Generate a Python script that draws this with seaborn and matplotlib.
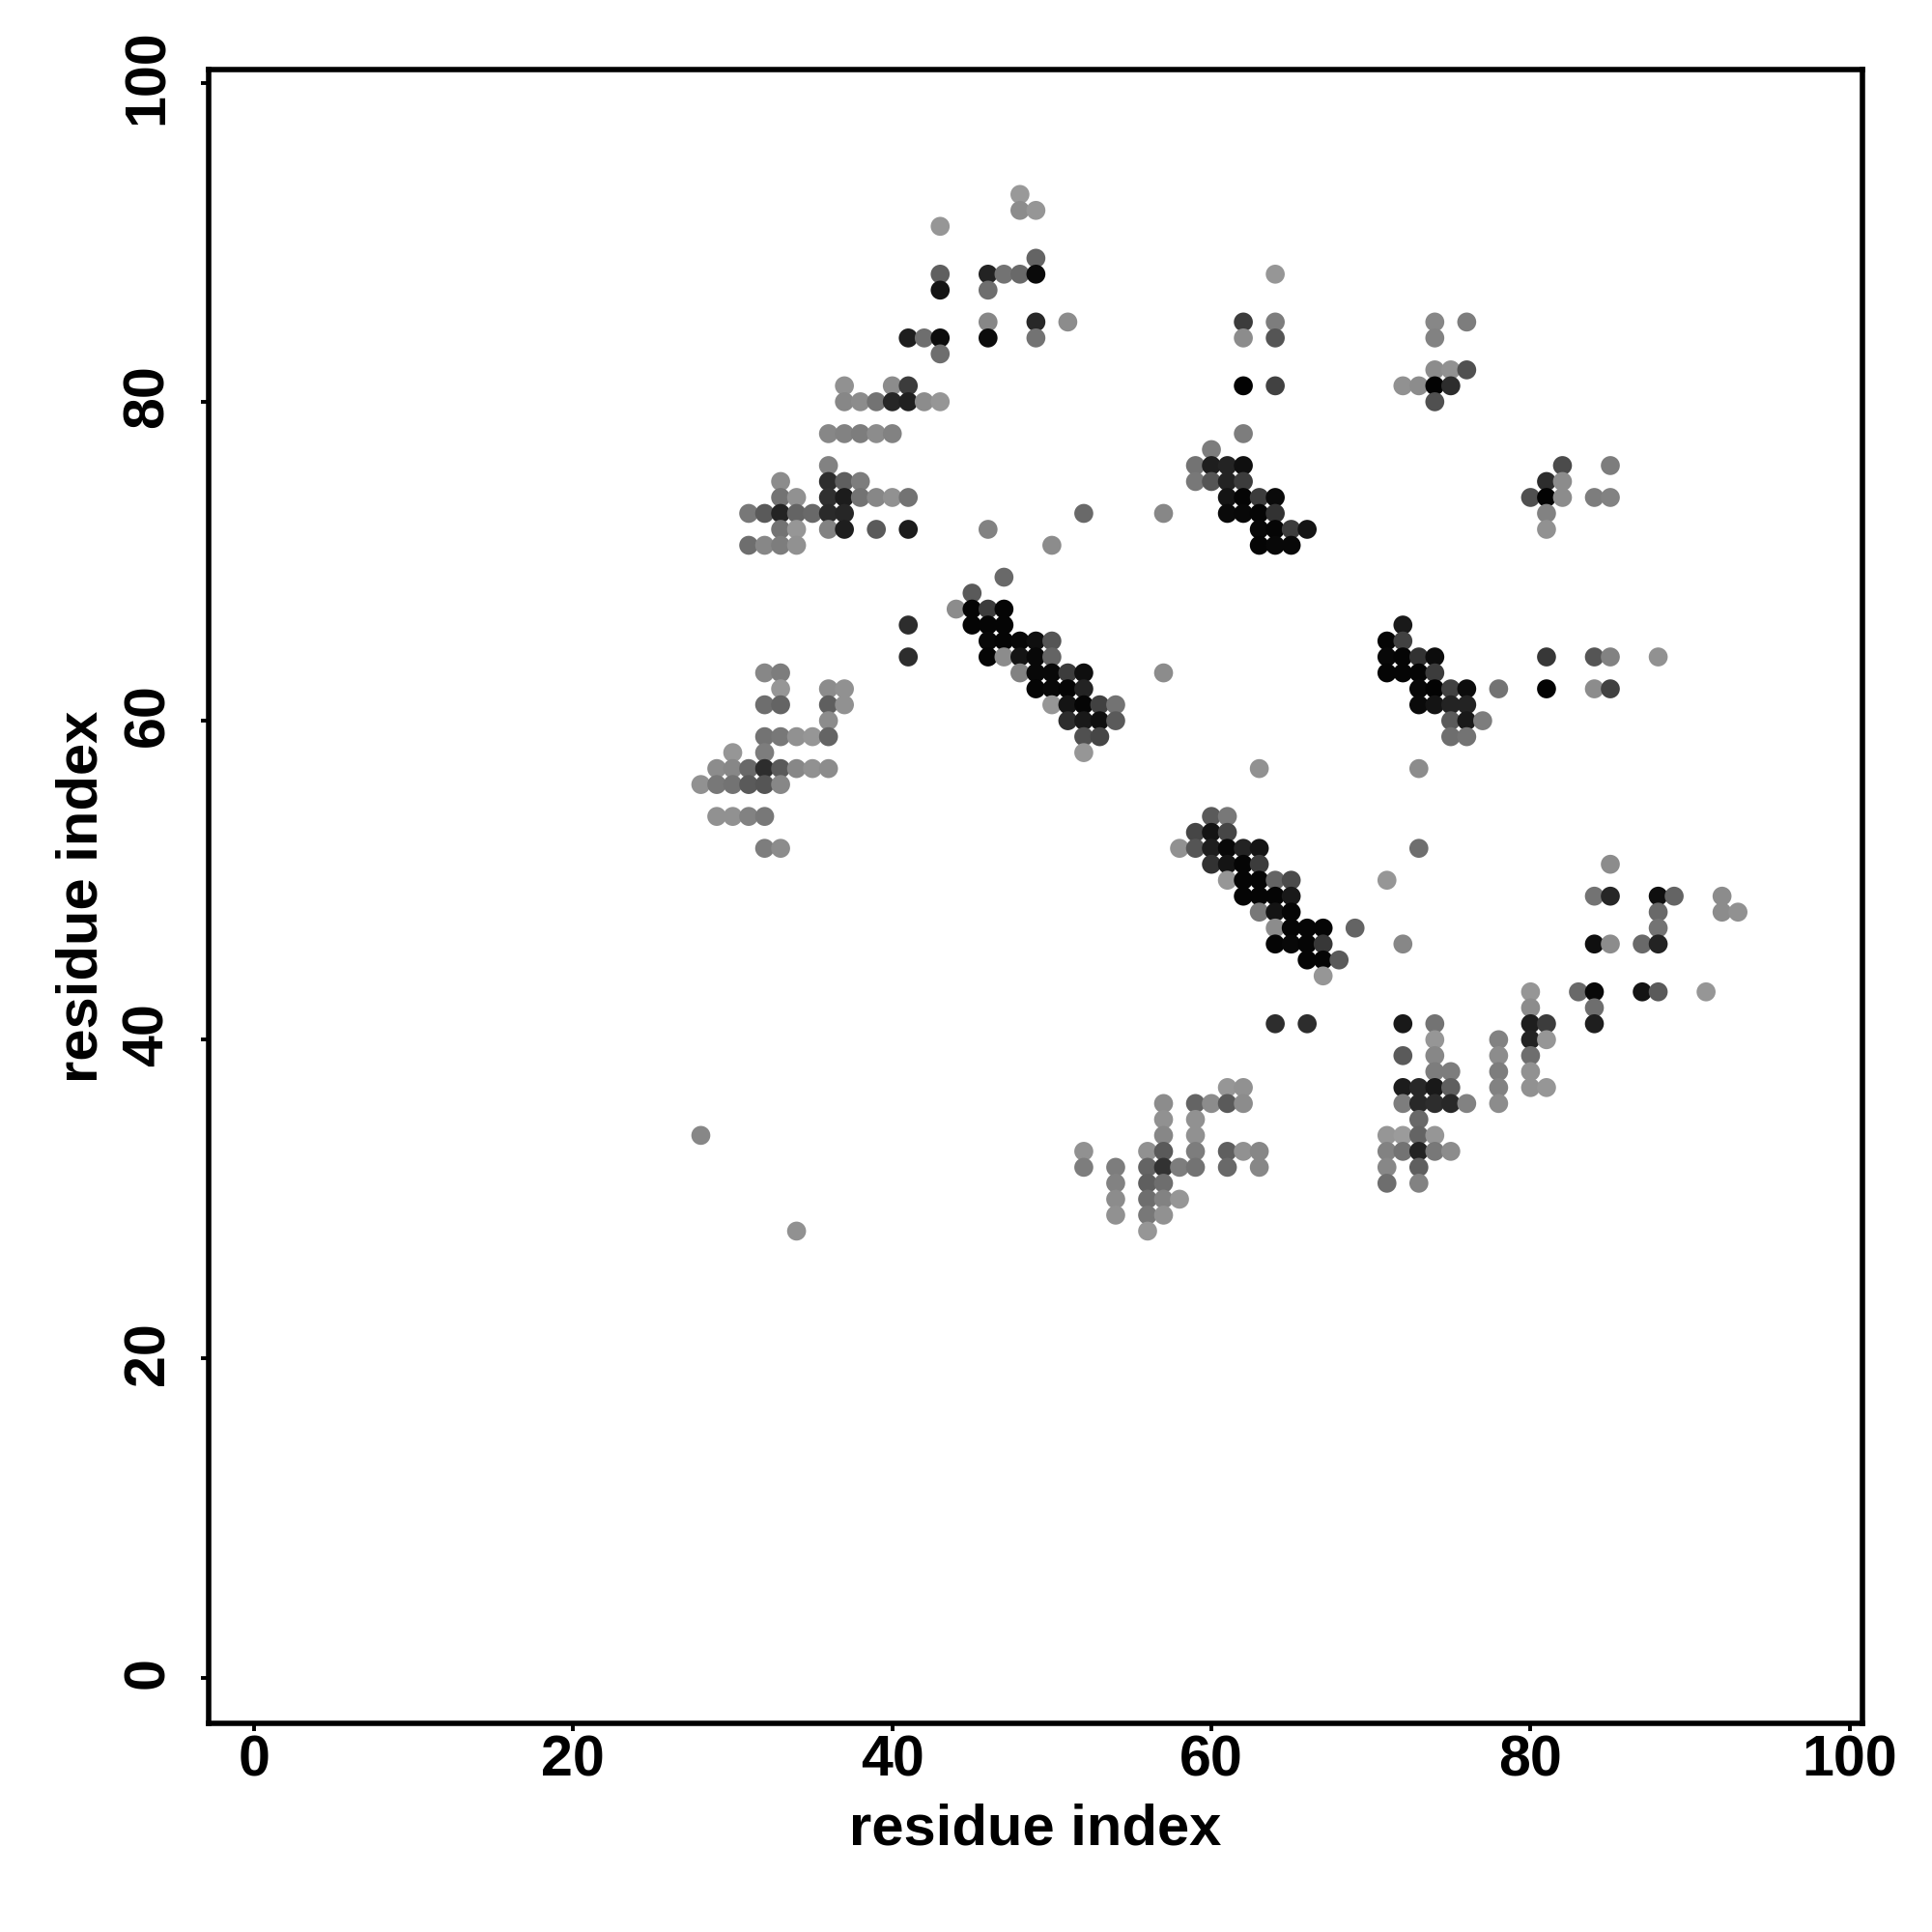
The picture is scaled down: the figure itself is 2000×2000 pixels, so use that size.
import matplotlib
matplotlib.use("Agg")
import matplotlib.pyplot as plt
from matplotlib.transforms import ScaledTranslation
import seaborn as sns
import pandas as pd

# one entry per row of the contact map: y value -> (x values, grey levels 0-255)
rows = {
    93: ([48], [153]),
    92: ([48, 49], [140, 150]),
    91: ([43], [150]),
    89: ([49], [100]),
    88: ([43, 46, 47, 48, 49, 64], [95, 35, 115, 105, 10, 150]),
    87: ([43, 46], [20, 110]),
    85: ([46, 49, 51, 62, 64, 74, 76], [135, 40, 140, 60, 125, 135, 125]),
    84: ([41, 42, 43, 46, 49, 62, 64, 74], [30, 110, 12, 12, 115, 140, 85, 130]),
    83: ([43], [110]),
    82: ([74, 75, 76], [140, 145, 80]),
    81: ([37, 40, 41, 62, 64, 72, 73, 74, 75], [145, 140, 60, 3, 65, 145, 140, 3, 45]),
    80: ([37, 38, 39, 40, 41, 42, 43, 74], [135, 140, 115, 38, 32, 140, 150, 80]),
    78: ([36, 37, 38, 39, 40, 62], [135, 130, 125, 140, 130, 125]),
    77: ([60], [125]),
    76: ([36, 59, 60, 61, 62, 82, 85], [130, 115, 30, 35, 15, 75, 125]),
    75: ([33, 36, 37, 38, 59, 60, 61, 62, 81, 82], [140, 45, 95, 125, 120, 85, 35, 60, 45, 140]),
    74: ([33, 34, 36, 37, 38, 39, 40, 41, 61, 62, 63, 64, 80, 81, 82, 84, 85],
         [115, 145, 48, 28, 115, 135, 145, 115, 20, 5, 60, 10, 80, 3, 140, 125, 130]),
    73: ([31, 32, 33, 34, 35, 36, 37, 52, 57, 61, 62, 63, 64, 81],
         [120, 90, 35, 100, 105, 42, 38, 105, 135, 10, 8, 5, 50, 130]),
    72: ([33, 34, 36, 37, 39, 41, 46, 63, 64, 65, 66, 81],
         [115, 150, 130, 30, 90, 28, 130, 8, 5, 60, 20, 145]),
    71: ([31, 32, 33, 34, 50, 63, 64, 65], [110, 135, 125, 145, 140, 5, 8, 8]),
    69: ([47], [105]),
    68: ([45], [90]),
    67: ([44, 45, 46, 47], [140, 5, 60, 5]),
    66: ([41, 45, 46, 47, 72], [45, 5, 5, 5, 25]),
    65: ([46, 47, 48, 49, 50, 71, 72], [8, 5, 8, 15, 85, 5, 65]),
    64: ([41, 46, 47, 48, 49, 50, 71, 72, 73, 74, 81, 84, 85, 88],
         [45, 5, 140, 20, 8, 100, 8, 5, 50, 12, 55, 85, 130, 145]),
    63: ([32, 33, 48, 49, 50, 51, 52, 57, 71, 72, 73, 74],
         [135, 125, 130, 8, 8, 60, 15, 140, 5, 5, 5, 60]),
    62: ([33, 36, 37, 49, 50, 51, 52, 73, 74, 75, 76, 78, 81, 84, 85],
         [150, 140, 145, 5, 8, 5, 35, 8, 3, 65, 12, 115, 3, 140, 65]),
    61: ([32, 33, 36, 37, 50, 51, 52, 53, 54, 73, 74, 75, 76],
         [110, 100, 95, 145, 150, 20, 5, 65, 115, 10, 20, 35, 35]),
    60: ([36, 51, 52, 53, 54, 75, 76, 77], [140, 45, 25, 15, 90, 90, 25, 125]),
    59: ([32, 33, 34, 35, 36, 52, 53, 75, 76], [115, 120, 145, 150, 100, 80, 70, 110, 115]),
    58: ([30, 32, 52], [150, 125, 150]),
    57: ([29, 30, 31, 32, 33, 34, 35, 36, 63, 73], [140, 135, 105, 45, 90, 135, 145, 140, 145, 140]),
    56: ([28, 29, 30, 31, 32, 33], [145, 120, 115, 90, 85, 135]),
    54: ([29, 30, 31, 32, 60, 61], [145, 145, 130, 120, 90, 120]),
    53: ([59, 60, 61], [70, 20, 70]),
    52: ([32, 33, 58, 59, 60, 61, 62, 63, 73], [125, 140, 145, 85, 30, 8, 35, 20, 110]),
    51: ([60, 61, 62, 63, 85], [50, 20, 5, 60, 140]),
    50: ([61, 62, 63, 64, 65, 71], [150, 5, 5, 100, 75, 150]),
    49: ([62, 63, 64, 65, 84, 85, 88, 89, 92], [5, 5, 5, 25, 115, 38, 15, 100, 140]),
    48: ([63, 64, 65, 88, 92, 93], [120, 20, 5, 105, 140, 145]),
    47: ([64, 65, 66, 67, 69, 88], [140, 5, 5, 5, 100, 115]),
    46: ([64, 65, 66, 67, 72, 84, 85, 87, 88], [5, 8, 5, 55, 135, 15, 140, 105, 35]),
    45: ([66, 67, 68], [5, 5, 90]),
    44: ([67], [150]),
    43: ([80, 83, 84, 87, 88, 91], [150, 105, 8, 20, 90, 150]),
    42: ([80, 84], [140, 110]),
    41: ([64, 66, 72, 74, 80, 81, 84], [45, 45, 25, 115, 30, 60, 30]),
    40: ([74, 78, 80, 81], [150, 130, 35, 150]),
    39: ([72, 74, 78, 80], [90, 135, 140, 110]),
    38: ([74, 75, 78, 80], [125, 125, 125, 145]),
    37: ([61, 62, 72, 73, 74, 75, 78, 80, 81], [150, 145, 28, 40, 25, 95, 130, 145, 150]),
    36: ([57, 59, 60, 61, 62, 72, 73, 74, 75, 76, 78],
         [140, 100, 140, 90, 140, 125, 40, 45, 40, 130, 140]),
    35: ([57, 59, 73], [145, 145, 105]),
    34: ([28, 57, 59, 71, 72, 73, 74], [135, 135, 145, 150, 155, 100, 150]),
    33: ([52, 56, 57, 59, 61, 62, 63, 71, 72, 73, 74, 75],
         [145, 145, 90, 125, 95, 145, 135, 130, 115, 35, 120, 140]),
    32: ([52, 54, 56, 57, 58, 59, 61, 63, 71, 73],
         [125, 125, 100, 50, 125, 115, 105, 135, 135, 95]),
    31: ([54, 56, 57, 71, 73], [130, 95, 110, 110, 130]),
    30: ([54, 56, 57, 58], [140, 110, 130, 150]),
    29: ([54, 56, 57], [145, 120, 145]),
    28: ([34, 56], [145, 150]),
}
tick_values = [0, 20, 40, 60, 80, 100]
axis_label = "residue index"

records = [(x, y, g) for y, (xs, gs) in rows.items() for x, g in zip(xs, gs)]
df = pd.DataFrame(records, columns=["x", "y", "grey"])

sns.set_theme(style="white")
plt.rcParams["font.family"] = ["Liberation Sans", "DejaVu Sans"]
plt.rcParams["font.weight"] = "bold"

fig = plt.figure(figsize=(10, 10), dpi=200, facecolor="white")
ax = fig.add_axes([0.108, 0.108, 0.856, 0.856])
sns.scatterplot(data=df, x="x", y="y", hue="grey", hue_norm=(0, 255), palette="gray",
                s=50, linewidth=0, legend=False, ax=ax)
ax.set_xlim(-2.845, 100.8)
ax.set_ylim(-2.865, 100.83)
ax.set_xticks(tick_values)
ax.set_yticks(tick_values)
for s in ax.spines.values():
    s.set_linewidth(2.0)
    s.set_color("black")
ax.tick_params(axis="both", length=3, width=1.4, color="black", direction="out",
               bottom=True, left=True, labelsize=21.3, labelcolor="black")
ax.tick_params(axis="x", pad=1.3)
ax.tick_params(axis="y", pad=9.6)
nudge = ScaledTranslation(0, 2.0 / 72, fig.dpi_scale_trans)
for t in ax.get_yticklabels():
    t.set_rotation(90)
    t.set_va("center")
    t.set_fontweight("bold")
    t.set_transform(t.get_transform() + nudge)
for t in ax.get_xticklabels():
    t.set_fontweight("bold")
ax.set_xlabel(axis_label, fontsize=21.5, fontweight="bold", color="black", labelpad=5.5)
ax.set_ylabel(axis_label, fontsize=21.5, fontweight="bold", color="black", labelpad=5)
ax.grid(False)
fig.savefig("out.png", dpi=200, facecolor="white")
